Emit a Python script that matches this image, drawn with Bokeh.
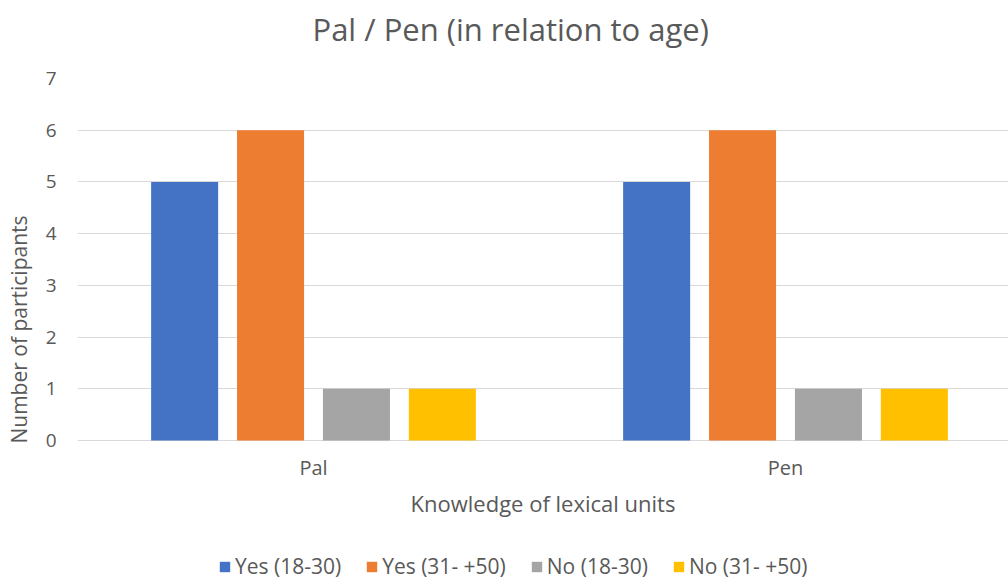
from bokeh.plotting import figure
from bokeh.models import FixedTicker, Legend, LegendItem, ColumnDataSource, Title
from bokeh.embed import file_html
from bokeh.resources import INLINE

# Survey counts per lexical unit, split by answer and age group
units = ["Pal", "Pen"]
series = ["Yes (18-30)", "Yes (31- +50)", "No (18-30)", "No (31- +50)"]
counts = {
    "Yes (18-30)": [5, 5],
    "Yes (31- +50)": [6, 6],
    "No (18-30)": [1, 1],
    "No (31- +50)": [1, 1],
}
y_ticks = [0, 1, 2, 3, 4, 5, 6, 7]

colors = ["#4472C4", "#ED7D31", "#A5A5A5", "#FFC000"]
TXT = "#595959"
FONT = "Open Sans"

# Group layout: each unit occupies one x unit, bars dodge around its centre
centers = [i + 0.5 for i in range(len(units))]
pitch = 0.182
bar_w = 0.142
offsets = [(k - (len(series) - 1) / 2) * pitch for k in range(len(series))]

# The plotting area runs to the bottom edge; the strip under y = 0 holds
# the category labels, the x-axis title and the legend.
unit_px = 362 / 7
y_bottom = -140 / unit_px

p = figure(
    width=1008, height=580,
    x_range=(0, 931 / 472), y_range=(y_bottom, 7),
    output_backend="svg", toolbar_location=None,
    min_border_left=77, min_border_right=0,
    min_border_top=78, min_border_bottom=0,
    outline_line_color=None,
)
p.title = Title(text="Pal / Pen (in relation to age)", align="left", offset=235,
                text_font=FONT, text_font_size="31px", text_color=TXT,
                text_font_style="normal", standoff=0)
# blank spacer between the heading and the plotting area
p.add_layout(Title(text=" ", text_font_size="14px", standoff=11), "above")

renderers = []
for k, name in enumerate(series):
    src = ColumnDataSource(dict(x=[c + offsets[k] for c in centers], top=counts[name]))
    r = p.vbar(x="x", top="top", bottom=0, width=bar_w, source=src,
               fill_color=colors[k], line_color=None)
    renderers.append(r)

# Axes
p.xaxis.fixed_location = 0
p.xaxis.ticker = FixedTicker(ticks=centers)
p.xaxis.major_label_overrides = {c: u for c, u in zip(centers, units)}
p.xaxis.axis_label = "Knowledge of lexical units"
p.yaxis.ticker = FixedTicker(ticks=y_ticks)
p.yaxis.bounds = (y_ticks[0], y_ticks[-1])
p.yaxis.axis_label = "Number of participants"

for ax in (p.xaxis[0], p.yaxis[0]):
    ax.axis_line_color = None
    ax.major_tick_line_color = None
    ax.minor_tick_line_color = None
    ax.major_tick_out = 0
    ax.major_tick_in = 0
    ax.minor_tick_out = 0
    ax.minor_tick_in = 0
    ax.major_label_text_font = FONT
    ax.major_label_text_color = TXT
    ax.axis_label_text_font = FONT
    ax.axis_label_text_color = TXT
    ax.axis_label_text_font_style = "normal"

p.yaxis.major_label_text_font_size = "19px"
p.yaxis.major_label_standoff = 21
p.yaxis.axis_label_text_font_size = "21px"
p.yaxis.axis_label_standoff = 10
p.xaxis.major_label_text_font_size = "20px"
p.xaxis.major_label_standoff = 13
p.xaxis.axis_label_text_font_size = "22px"
p.xaxis.axis_label_standoff = 4

p.xgrid.grid_line_color = None
p.ygrid.grid_line_color = "#D9D9D9"
p.ygrid.grid_line_width = 1

legend = Legend(
    items=[LegendItem(label=n, renderers=[r]) for n, r in zip(series, renderers)],
    orientation="horizontal", location=(141, 0),
    glyph_width=13, glyph_height=13, label_standoff=4, spacing=24,
    padding=0, margin=0, border_line_color=None, background_fill_alpha=0,
    label_text_font=FONT, label_text_font_size="21px", label_text_color=TXT,
)
p.add_layout(legend, "center")

open("out.html", "w").write(file_html(p, INLINE))
